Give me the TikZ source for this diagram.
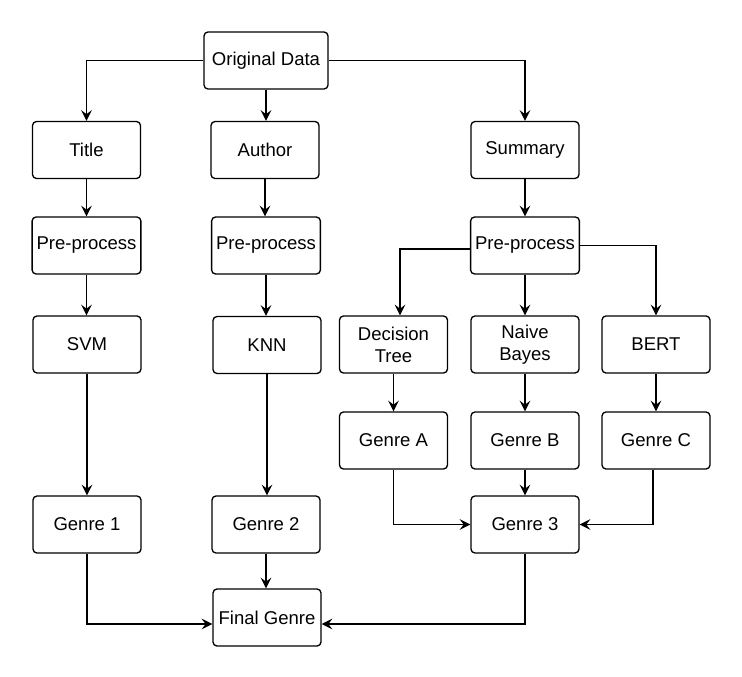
\documentclass[tikz,border=0pt]{standalone}
\usepackage{fontspec}
\setmainfont{Liberation Sans}
\usetikzlibrary{arrows.meta}

\begin{document}
\begin{tikzpicture}[x=0.75pt, y=-0.75pt,
        box/.style={draw=black, line width=1pt, rounded corners=3pt, minimum width=81pt,
                    minimum height=42.75pt, align=center, font=\fontsize{13.9}{16.5}\selectfont},
        link/.style={line width=1pt, color=black, -{Stealth[length=8pt, width=8pt, inset=3pt]}}]
        \useasboundingbox (0, 0) rectangle (742, 677);

        % Source:
        \node[box, minimum width=93pt] (data) at (266, 60.5) {Original Data};

        % Features:
        \node[box] (title)   at (86.5, 150) {Title};
        \node[box] (author)  at (265, 150)  {Author};
        \node[box] (summary) at (525, 150)  {Summary};

        % Pre-processing:
        \node[box] (pre1) at (86.5, 245.5) {Pre-process};
        \node[box] (pre2) at (266, 245.5)  {Pre-process};
        \node[box] (pre3) at (525, 245.5)  {Pre-process};

        % Models:
        \node[box] (svm)   at (87, 344.5)    {SVM};
        \node[box] (knn)   at (267, 345)     {KNN};
        \node[box] (dtree) at (393.5, 344.5) {Decision\\Tree};
        \node[box] (bayes) at (525, 344.5)   {Naive\\Bayes};
        \node[box] (bert)  at (656, 344.5)   {BERT};

        % Genres:
        \node[box] (genA) at (393.5, 440.5) {Genre A};
        \node[box] (genB) at (525, 440.5)   {Genre B};
        \node[box] (genC) at (656, 440.5)   {Genre C};
        \node[box] (gen1) at (87, 524.5)    {Genre 1};
        \node[box] (gen2) at (266, 524.5)   {Genre 2};
        \node[box] (gen3) at (525, 524.5)   {Genre 3};
        \node[box] (final) at (267, 617.5)  {Final Genre};

        % Straight links:
        \foreach \a/\b in {data/author, title/pre1, pre1/svm, svm/gen1, author/pre2, pre2/knn,
                           knn/gen2, gen2/final, summary/pre3, pre3/bayes, bayes/genB,
                           genB/gen3, dtree/genA, bert/genC}
            \draw[link] (\a.south) -- (\a.south |- \b.north);

        % Elbow links:
        \draw[link] (data.west) -| (title.north);
        \draw[link] (data.east) -| (summary.north);
        \draw[link] ([yshift=-2.6pt]pre3.west) -| ([xshift=4.9pt]dtree.north);
        \draw[link] (pre3.east) -| (bert.north);
        \draw[link] (genA.south) |- (gen3.west);
        \draw[link] ([xshift=-2.2pt]genC.south) |- (gen3.east);
        \draw[link] (gen1.south) |- ([yshift=-4.9pt]final.west);
        \draw[link] (gen3.south) |- ([yshift=-4.9pt]final.east);
    \end{tikzpicture}
\end{document}
